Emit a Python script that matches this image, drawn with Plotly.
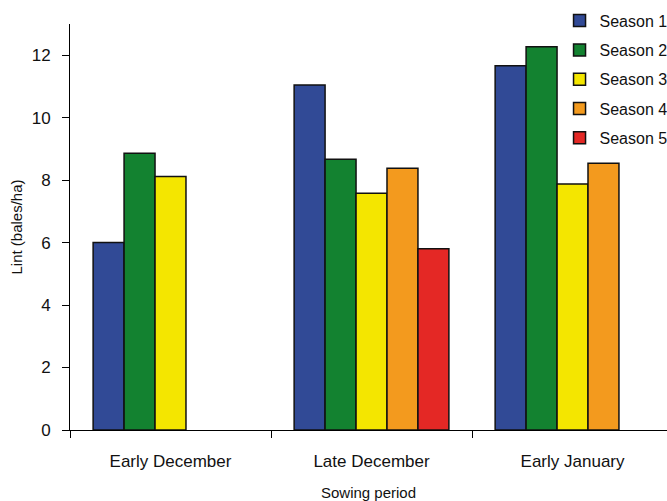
import plotly.graph_objects as go

categories = ["Early December", "Late December", "Early January"]
season1 = [6.0, 11.05, 11.66]
season2 = [8.86, 8.67, 12.27]
season3 = [8.12, 7.58, 7.88]
season4 = [None, 8.38, 8.54]
season5 = [None, 5.8, None]
series_names = ["Season 1", "Season 2", "Season 3", "Season 4", "Season 5"]
colors = ["#314A96", "#138230", "#F4E600", "#F39A1E", "#E42825"]
y_ticks = [0, 2, 4, 6, 8, 10, 12]

fig = go.Figure()
for i, (name, vals, c) in enumerate(zip(series_names, [season1, season2, season3, season4, season5], colors)):
    fig.add_trace(go.Bar(
        x=categories, y=vals, name=name, legendgroup=name,
        marker=dict(color=c, line=dict(color="#111111", width=1.5)),
    ))

fig.update_layout(
    width=667, height=501,
    margin=dict(l=70, r=0, t=24, b=71, autoexpand=False),
    plot_bgcolor="white", paper_bgcolor="white",
    barmode="group", bargap=0.23, bargroupgap=0,
    font=dict(family="Liberation Sans, Arial, sans-serif", size=16, color="#111111"),
    legend=dict(x=0.82, y=1.05, xanchor="left", yanchor="top", itemwidth=30,
                font=dict(size=16), tracegroupgap=5.5, bgcolor="rgba(0,0,0,0)"),
    xaxis=dict(
        range=[-0.5, 2.47], showline=True, linecolor="black", linewidth=1,
        ticks="outside", tickson="boundaries", ticklen=7, tickcolor="black",
        ticklabelstandoff=16, automargin=False,
        title=dict(text="Sowing period", font=dict(size=15), standoff=17),
        showgrid=False, zeroline=False, tickfont=dict(size=17),
    ),
    yaxis=dict(
        range=[0, 13], showline=True, linecolor="black", linewidth=1,
        ticks="outside", ticklen=7, tickcolor="black", tickvals=y_ticks,
        ticklabelstandoff=8, automargin=False,
        title=dict(text="Lint (bales/ha)", font=dict(size=15), standoff=5),
        showgrid=False, zeroline=False, tickfont=dict(size=17),
    ),
)

fig.write_html("out.html", config={"displayModeBar": False},
               post_script="document.body.style.margin='0';document.body.style.overflow='hidden';")
